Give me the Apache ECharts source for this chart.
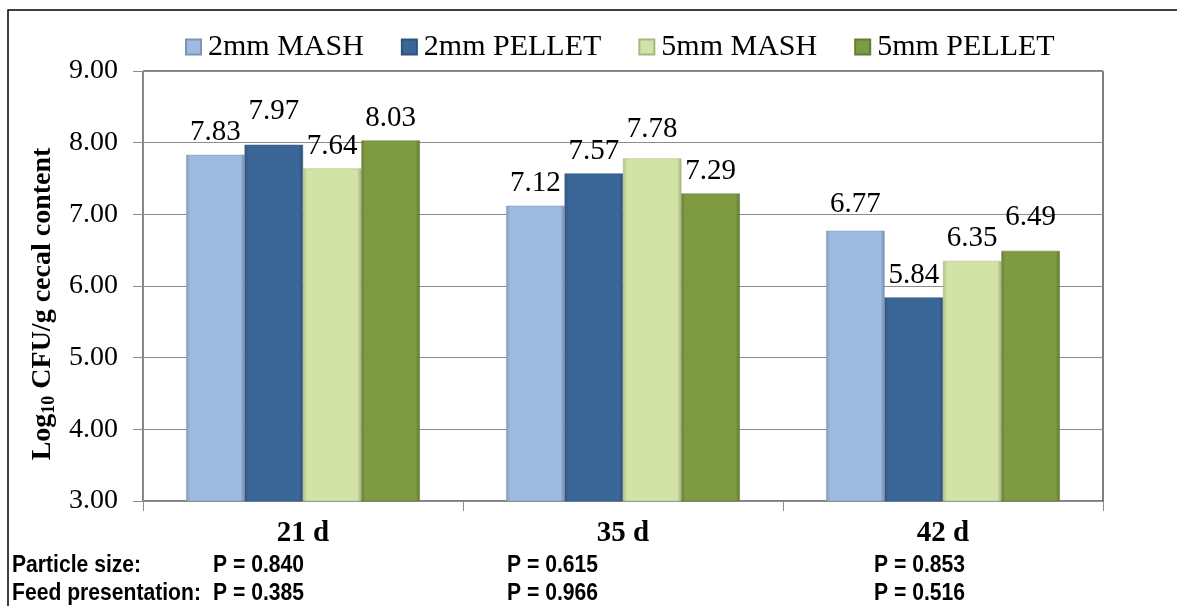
<!DOCTYPE html>
<html>
<head>
<meta charset="utf-8">
<script src="https://cdn.jsdelivr.net/npm/echarts@6/dist/echarts.min.js"></script>
<style>
  html, body { margin: 0; padding: 0; background: #fff; }
  #chart { width: 1177px; height: 606px; }
</style>
</head>
<body>
<div id="chart"></div>
<script>
// data
const days = ['21 d', '35 d', '42 d'];
const seriesNames = ['2mm MASH', '2mm PELLET', '5mm MASH', '5mm PELLET'];
const mash2 = [7.83, 7.12, 6.77];
const pellet2 = [7.97, 7.57, 5.84];
const mash5 = [7.64, 7.78, 6.35];
const pellet5 = [8.03, 7.29, 6.49];
const yTicks = [3, 4, 5, 6, 7, 8, 9];
const pParticle = ['P = 0.840', 'P = 0.615', 'P = 0.853'];
const pFeed = ['P = 0.385', 'P = 0.966', 'P = 0.516'];

const colors = ['#9dbae0', '#3b6698', '#d2e3a6', '#7e9b43'];
// extra lift of a few labels, as placed in the original
const labelLift = [[0, 0, 4], [11, 0, 0], [0, 7, 0], [0, 0, 11]];

const serif = '"Liberation Serif", "DejaVu Serif", serif';
const narrow = '"Liberation Sans", Arial, sans-serif';

function shade(hex, k) {
  const n = parseInt(hex.slice(1), 16);
  const f = c => Math.max(0, Math.min(255, Math.round(c * k)));
  const r = f(n >> 16), g = f((n >> 8) & 255), b = f(n & 255);
  return 'rgb(' + r + ',' + g + ',' + b + ')';
}

function bevel(c) {
  return new echarts.graphic.LinearGradient(0, 0, 1, 0, [
    {offset: 0, color: shade(c, 0.84)},
    {offset: 0.07, color: c},
    {offset: 0.93, color: c},
    {offset: 1, color: shade(c, 0.76)}
  ]);
}

const values = [mash2, pellet2, mash5, pellet5];

const chart = echarts.init(document.getElementById('chart'), null, {renderer: 'canvas'});

const option = {
  animation: false,
  backgroundColor: '#fff',
  legend: {
    top: 27,
    left: 180,
    itemWidth: 15,
    itemHeight: 15,
    itemGap: 37,
    icon: 'rect',
    textStyle: {fontFamily: serif, fontSize: 30, color: '#000', padding: [0, 0, 0, 2]},
    data: seriesNames
  },
  grid: {
    left: 143, right: 74, top: 71, bottom: 105,
    show: true, borderColor: '#000', borderWidth: 1
  },
  xAxis: {
    type: 'category',
    data: days,
    axisLine: {lineStyle: {color: '#8c8c8c', width: 1}},
    axisTick: {show: true, length: 10, lineStyle: {color: '#8c8c8c'}},
    axisLabel: {fontFamily: serif, fontWeight: 'bold', fontSize: 29, color: '#000', margin: 18}
  },
  yAxis: {
    type: 'value',
    min: yTicks[0],
    max: yTicks[yTicks.length - 1],
    interval: 1,
    name: '{a|Log}{s|10}{a| CFU/g cecal content}',
    nameLocation: 'middle',
    nameGap: 84,
    nameTextStyle: {
      padding: [0, 36, 0, 0],
      rich: {
        a: {fontFamily: serif, fontWeight: 'bold', fontSize: 28, color: '#000'},
        s: {fontFamily: serif, fontWeight: 'bold', fontSize: 18, color: '#000', verticalAlign: 'bottom', padding: [12, 0, 0, 0]}
      }
    },
    axisLine: {show: true, lineStyle: {color: '#8c8c8c'}},
    axisTick: {show: true, length: 10, lineStyle: {color: '#8c8c8c'}},
    splitLine: {lineStyle: {color: '#8c8c8c', width: 1}},
    axisLabel: {
      fontFamily: serif, fontSize: 28, color: '#000', margin: 25,
      formatter: v => v.toFixed(2)
    }
  },
  series: seriesNames.map((name, i) => ({
    name: name,
    type: 'bar',
    barGap: '0%',
    barCategoryGap: '27%',
    itemStyle: {color: bevel(colors[i]), borderColor: shade(colors[i], 0.8), borderWidth: 0.5},
    label: {
      show: true,
      position: 'top',
      distance: 8,
      fontFamily: serif,
      fontSize: 29,
      color: '#000',
      formatter: p => p.value.toFixed(2)
    },
    data: values[i].map((v, j) => ({
      value: v,
      label: {distance: 8 + labelLift[i][j]}
    }))
  })),
  graphic: [
    {type: 'rect', shape: {x: 8, y: 10, width: 1250, height: 700},
     style: {fill: 'none', stroke: '#000', lineWidth: 1.5}, silent: true}
  ]
};

function note(text, x, y) {
  option.graphic.push({type: 'text', x: x, y: y, scaleX: 0.88,
    style: {text: text, font: 'bold 24px ' + narrow, fill: '#000'}});
}

note('Particle size:', 12, 553);
note('Feed presentation:', 12, 581);
// P-value columns
const pLeft = [213, 507, 874];
pParticle.forEach((t, k) => {
  note(t, pLeft[k], 553);
  note(pFeed[k], pLeft[k], 581);
});

chart.setOption(option);
</script>
</body>
</html>
